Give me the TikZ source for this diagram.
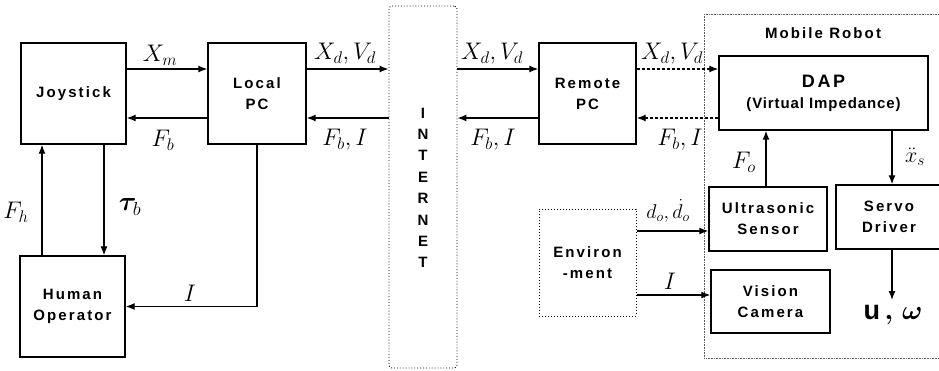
\RequirePackage{fix-cm}
\documentclass[tikz,border=0pt]{standalone}
\usepackage{fontspec}
\setmainfont{Liberation Sans}[LetterSpace=14]
\usepackage{bm}
\usetikzlibrary{arrows.meta}
\begin{document}
\begin{tikzpicture}[x=1pt,y=-1pt,
  blk/.style={draw,line width=1.4pt,align=center,inner sep=0pt,font=\fontsize{15}{21}\selectfont\bfseries},
  arr/.style={line width=1.3pt,-{Latex[length=9pt,width=7pt]}},
  darr/.style={arr,dash pattern=on 3pt off 2pt},
  lbl/.style={inner sep=0pt,font=\fontsize{24}{26}\selectfont}]
\useasboundingbox (0,0) rectangle (939,370);
% helper heights / columns
\coordinate (rA) at (0,69);
\coordinate (rB) at (0,118);
\coordinate (rD) at (0,231);
\coordinate (rE) at (0,295);
\coordinate (cFh) at (42,0);
\coordinate (cTau) at (104,0);
\coordinate (cFo) at (766,0);
\coordinate (cXs) at (892,0);
% frames
\node[draw,line width=0.9pt,dotted,rounded corners=3pt,minimum width=68pt,minimum height=362pt,inner sep=0pt] (inet) at (423,187) {};
\node[draw,line width=0.6pt,densely dotted,gray!70!black,minimum width=241pt,minimum height=344pt,inner sep=0pt,anchor=north west] (robot) at (704,14) {};
\node[inner sep=0pt,font=\fontsize{15}{17}\selectfont\bfseries] (robtitle) at (823,33) {Mobile Robot};
% INTERNET letters
\foreach \ch/\yy [count=\k] in {I/113,N/134,T/155,E/177,R/198,N/220,E/241,T/262}
  \node[inner sep=0pt,font=\fontsize{15}{17}\selectfont\bfseries] (in\k) at (423,\yy) {\ch};
% blocks
\node[blk,minimum width=105pt,minimum height=101pt] (joy) at (73.5,93.5) {Joystick};
\node[blk,minimum width=98pt,minimum height=101pt] (lpc) at (257,93.5) {Local\\PC};
\node[blk,minimum width=105pt,minimum height=101pt] (hum) at (72.5,306.5) {Human\\Operator};
\node[blk,minimum width=97pt,minimum height=101pt] (rpc) at (587.5,93.5) {Remote\\PC};
\node[blk,minimum width=209pt,minimum height=74pt] (dap) at (823.5,93) {{\fontsize{18}{21}\selectfont DAP}\\{\addfontfeature{LetterSpace=6}(Virtual Impedance)}};
\node[blk,minimum width=118pt,minimum height=64pt] (us) at (768,219) {Ultrasonic\\Sensor};
\node[blk,minimum width=106pt,minimum height=64pt] (servo) at (889,217) {Servo\\Driver};
\node[blk,minimum width=119pt,minimum height=63pt] (vis) at (770.5,301.5) {Vision\\Camera};
\node[blk,line width=1pt,dotted,minimum width=97pt,minimum height=107pt] (env) at (587.5,262.5) {Environ\\-ment};
\coordinate (uend) at (892,300);
% connectors
\draw[arr] (joy.east|-rA) -- (lpc.west|-rA);
\draw[arr] (lpc.west|-rB) -- (joy.east|-rB);
\draw[arr] (lpc.east|-rA) -- (inet.west|-rA);
\draw[arr] (inet.west|-rB) -- (lpc.east|-rB);
\draw[arr] (inet.east|-rA) -- (rpc.west|-rA);
\draw[arr] (rpc.west|-rB) -- (inet.east|-rB);
\draw[darr] (rpc.east|-rA) -- (dap.west|-rA);
\draw[darr] (dap.west|-rB) -- (rpc.east|-rB);
\draw[arr] (hum.north-|cFh) -- (joy.south-|cFh);
\draw[arr] (joy.south-|cTau) -- (hum.north-|cTau);
\draw[arr] (lpc.south) |- (hum.east);
\draw[arr] (us.north-|cFo) -- (dap.south-|cFo);
\draw[arr] (dap.south-|cXs) -- (servo.north-|cXs);
\draw[arr] (servo.south-|cXs) -- (uend);
\draw[arr] (env.east|-rD) -- (us.west|-rD);
\draw[arr] (env.east|-rE) -- (vis.west|-rE);
% labels
\node[lbl] (lXm) at (160,55) {$X_{m}$};
\node[lbl] (lFb) at (163,140) {$F_{b}$};
\node[lbl] (lXd1) at (345,54) {$X_{d},V_{d}$};
\node[lbl] (lFb1) at (345,140) {$F_{b},I$};
\node[lbl] (lXd2) at (492,54) {$X_{d},V_{d}$};
\node[lbl] (lFb2) at (493,140) {$F_{b},I$};
\node[lbl] (lXd3) at (672,54) {$X_{d},V_{d}$};
\node[lbl] (lFb3) at (680,140) {$F_{b},I$};
\node[lbl] (lFh) at (16,212) {$F_{h}$};
\node[lbl,font=\fontsize{27}{29}\selectfont] (lTau) at (130,207) {$\bm{\tau}_{b}$};
\node[lbl] (lI) at (190,293) {$I$};
\node[lbl] (lFo) at (744,162) {$F_{o}$};
\node[lbl,font=\fontsize{22}{24}\selectfont] (lXs) at (915,157) {$\ddot{x}_{s}$};
\node[lbl,font=\fontsize{20}{22}\selectfont] (ldo) at (668,211) {$d_{o},\dot{d}_{o}$};
\node[lbl] (lI2) at (670,281) {$I$};
\node[lbl,font=\fontsize{27}{29}\selectfont] (luw) at (893,315) {$\mathbf{u}\,\bm{,}\,\bm{\omega}$};
\end{tikzpicture}
\end{document}
